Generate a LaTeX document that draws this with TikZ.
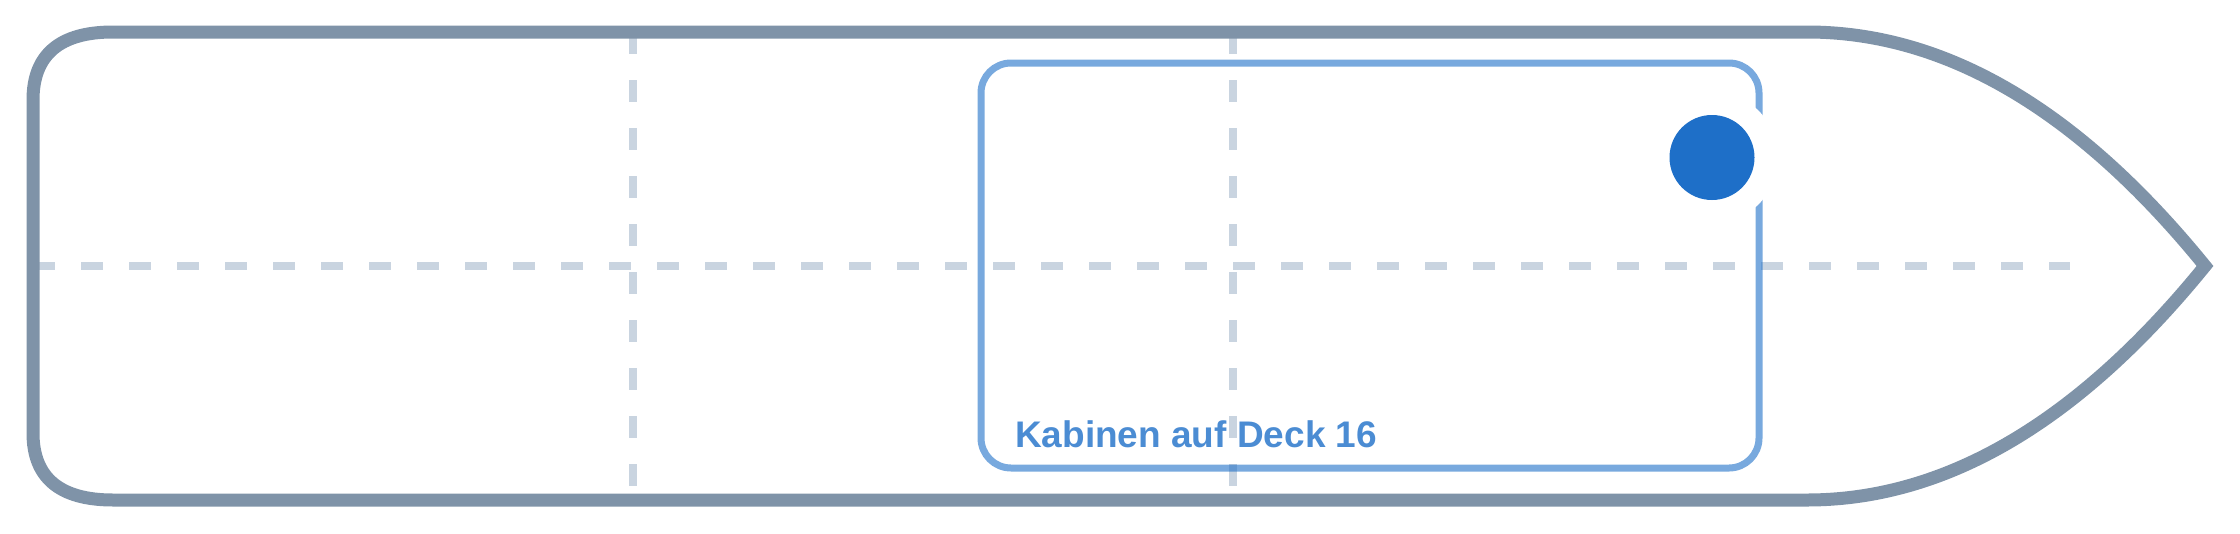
\documentclass[tikz,border=0pt]{standalone}
\usepackage{fontspec}
\setmainfont{Liberation Sans}
\definecolor{hullc}{HTML}{7F93A8}
\definecolor{guidec}{HTML}{C9D4E0}
\definecolor{bluec}{HTML}{1E6FC8}
\begin{document}
\begin{tikzpicture}[x=1pt,y=-1pt,
  hull/.style={draw=hullc,line width=13pt,line join=miter},
  guide/.style={draw=guidec,line width=7.5pt,dash pattern=on 21.5pt off 26.5pt},
  deck/.style={draw=bluec,draw opacity=0.6,line width=7pt,rounded corners=30pt},
  lbl/.style={text=bluec,text opacity=0.8,font=\fontsize{37}{44}\selectfont\bfseries,inner sep=0pt,anchor=base west},
  dotstyle/.style={circle,fill=bluec,minimum size=85pt,inner sep=0pt},
  halo/.style={circle,fill=white,minimum size=132pt,inner sep=0pt}
]
\useasboundingbox (0,0) rectangle (2240,533);
% guide lines
\coordinate (hL) at (33,266);
\coordinate (hR) at (2070,266);
\coordinate (v1t) at (633,32);
\coordinate (v1b) at (633,500);
\coordinate (v2t) at (1233,32);
\coordinate (v2b) at (1233,500);
\draw[guide] (hL) -- (hR);
\draw[guide] (v1t) -- (v1b);
\draw[guide] (v2t) -- (v2b);
% hull
\draw[hull] (113,32) -- (1807,32)
  .. controls (1945.7,32) and (2078.3,110) .. (2205,266)
  .. controls (2078.3,422) and (1945.7,500) .. (1807,500)
  -- (113,500)
  .. controls (59.7,500) and (33,477.7) .. (33,433)
  -- (33,100)
  .. controls (33,54.7) and (59.7,32) .. cycle;
% deck area
\draw[deck] (981,63) rectangle (1759,468);
\node[halo] (dothalo) at (1712,157.5) {};
\node[dotstyle] (dot) at (1712,157.5) {};
\node[lbl] (title) at (1015,447) {Kabinen auf Deck 16};
\end{tikzpicture}
\end{document}
